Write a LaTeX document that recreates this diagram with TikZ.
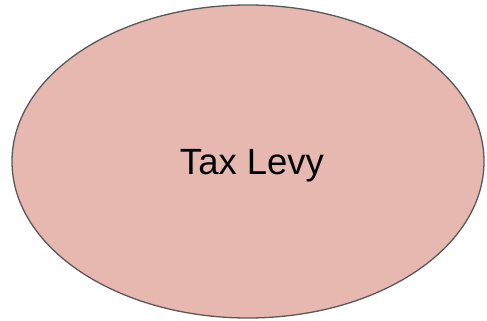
\documentclass[tikz,border=0pt]{standalone}
\usepackage{fontspec}
\setmainfont{Liberation Sans}
\usetikzlibrary{shapes.geometric}
\definecolor{fillpink}{HTML}{E6B8AF}
\definecolor{edgegray}{HTML}{595959}
\tikzset{bubble/.style={ellipse, draw=edgegray, fill=fillpink, line width=1.3pt, minimum width=472pt, minimum height=313pt, inner sep=0pt},
  bubbletext/.style={inner sep=0pt, font=\fontsize{36.5}{40}\selectfont}}
\begin{document}
\begin{tikzpicture}[x=1pt,y=1pt]
\useasboundingbox (0,0) rectangle (487,321);
\node[bubble] (levy) at (248,159.5) {};
\node[bubbletext, anchor=base] (levytext) at ([xshift=4pt,yshift=-13.5pt]levy.center) {Tax Levy};
\end{tikzpicture}
\end{document}
